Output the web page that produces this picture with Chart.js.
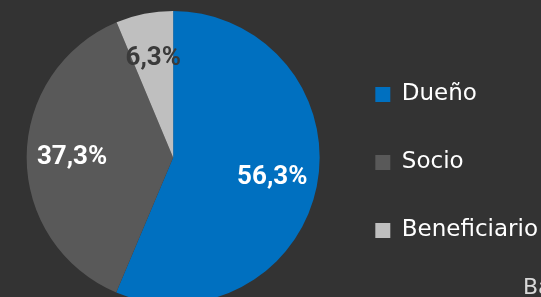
<!DOCTYPE html>
<html>
<head>
<meta charset="utf-8">
<script src="https://cdn.jsdelivr.net/npm/chart.js@4.4.1/dist/chart.umd.min.js"></script>
<style>
  html, body { margin: 0; padding: 0; width: 541px; height: 297px; overflow: hidden; background: #333333; }
  #wrap { position: absolute; left: 16px; top: 0; width: 532px; height: 315px; }
  #note { position: absolute; left: 523px; top: 274px; font-family: "DejaVu Sans", sans-serif; font-size: 22px; color: #d9d9d9; white-space: nowrap; }
</style>
</head>
<body>
<div id="wrap"><canvas id="c"></canvas></div>
<div id="note">Base</div>
<script>
const categories = ["Dueño", "Socio", "Beneficiario"];
const values = [56.3, 37.3, 6.3];
const valueLabels = ["56,3%", "37,3%", "6,3%"];
const sliceColors = ["#0070C0", "#595959", "#BFBFBF"];
const labelColors = ["#FFFFFF", "#FFFFFF", "#3A3A3A"];

const pieLabels = {
  id: 'pieLabels',
  afterDatasetsDraw(chart) {
    const ctx = chart.ctx;
    const meta = chart.getDatasetMeta(0);
    ctx.save();
    ctx.font = 'bold 26px Roboto, "DejaVu Sans Condensed", sans-serif';
    ctx.textAlign = 'center';
    ctx.textBaseline = 'middle';
    meta.data.forEach((arc, i) => {
      const p = arc.getProps(['x', 'y', 'startAngle', 'endAngle', 'outerRadius'], true);
      const mid = (p.startAngle + p.endAngle) / 2;
      const r = p.outerRadius * 0.69;
      ctx.fillStyle = labelColors[i];
      ctx.fillText(valueLabels[i], p.x + Math.cos(mid) * r, p.y + Math.sin(mid) * r);
    });
    ctx.restore();
  }
};

new Chart(document.getElementById('c'), {
  type: 'pie',
  data: {
    labels: categories,
    datasets: [{
      data: values,
      backgroundColor: sliceColors,
      borderWidth: 0
    }]
  },
  options: {
    responsive: true,
    maintainAspectRatio: false,
    animation: false,
    layout: { padding: { left: 0, top: 11, bottom: 11, right: 0 } },
    plugins: {
      tooltip: { enabled: false },
      legend: {
        position: 'right',
        title: { display: true, text: ' ', font: { size: 10, lineHeight: 1 }, padding: 0 },
        labels: {
          color: '#FFFFFF',
          font: { family: '"DejaVu Sans", sans-serif', size: 23 },
          boxWidth: 15,
          boxHeight: 15,
          padding: 45
        }
      }
    }
  },
  plugins: [pieLabels]
});
</script>
</body>
</html>
